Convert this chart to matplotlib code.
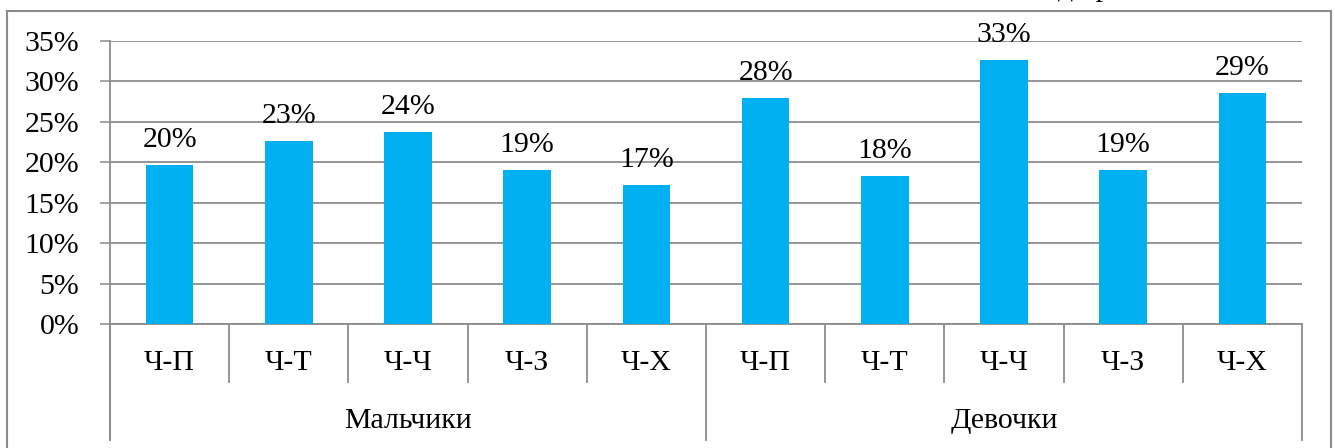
import matplotlib
matplotlib.use("Agg")
import matplotlib.pyplot as plt
import matplotlib.transforms as mtransforms
from matplotlib.lines import Line2D

# Daten
kategorien = ["Ч-П", "Ч-Т", "Ч-Ч", "Ч-З", "Ч-Х", "Ч-П", "Ч-Т", "Ч-Ч", "Ч-З", "Ч-Х"]
gruppen = ["Мальчики", "Девочки"]
werte = [0.197, 0.226, 0.237, 0.190, 0.172, 0.279, 0.183, 0.326, 0.190, 0.286]
y_ticks = [0, 0.05, 0.10, 0.15, 0.20, 0.25, 0.30, 0.35]

plt.rcParams["font.family"] = ["Liberation Serif", "DejaVu Serif"]
schrift = 21.5
grau = "#8c8c8c"
blau = "#00B0F0"

W, H = 1335, 448
fig = plt.figure(figsize=(W / 100, H / 100), dpi=100)
fig.patch.set_facecolor("white")

links, rechts, oben, unten = 110, 1302, 41, 324
ax = fig.add_axes([links / W, (H - unten) / H, (rechts - links) / W, (unten - oben) / H])

x = list(range(len(werte)))
ax.bar(x, werte, width=0.4, color=blau, zorder=3)

for xi, v in zip(x, werte):
    ax.annotate(f"{round(v * 100)}%", (xi, v), xytext=(0, 13), textcoords="offset points",
                ha="center", va="baseline", fontsize=schrift, zorder=4, annotation_clip=False)

ax.set_xlim(-0.5, len(werte) - 0.5)
ax.set_ylim(0, 0.35)
ax.set_yticks(y_ticks)
ax.set_yticklabels([f"{round(t * 100)}%" for t in y_ticks], fontsize=schrift)
ax.yaxis.grid(True, color=grau, linewidth=1.3, zorder=0)
ax.tick_params(axis="y", length=7.2, width=1.1, color=grau, pad=15)
ax.set_xticks([])
for s in ["top", "right"]:
    ax.spines[s].set_visible(False)
ax.spines["left"].set_visible(False)
ax.spines["bottom"].set_color(grau)
ax.spines["bottom"].set_linewidth(1.3)

# mehrstufige Kategorienachse
trans = mtransforms.blended_transform_factory(ax.transData, ax.transAxes)
h_ax = unten - oben

def y_achse(py):
    return (unten - py) / h_ax

# linke Achsenlinie
ax.add_line(Line2D([-0.5, -0.5], [1, y_achse(440)], transform=trans, color=grau,
                   linewidth=1.3, clip_on=False))
for k in range(len(werte) + 1):
    xb = k - 0.5
    if k % 5 == 0:
        yb = y_achse(440)
    else:
        yb = y_achse(382)
    ax.add_line(Line2D([xb, xb], [0, yb], transform=trans, color=grau,
                       linewidth=1.3, clip_on=False))

for xi, name in zip(x, kategorien):
    ax.text(xi, y_achse(363), name, transform=trans, ha="center", va="center",
            fontsize=schrift)

for i, g in enumerate(gruppen):
    ax.text(i * 5 + 2, y_achse(421), g, transform=trans, ha="center", va="center",
            fontsize=schrift)

# Rahmen um das Diagramm
for xs, ys in [([7, 7], [11, H]), ([7, 1331], [11, 11]), ([1331, 1331], [11, H])]:
    fig.add_artist(Line2D([v / W for v in xs], [1 - v / H for v in ys], color=grau,
                          linewidth=1.5, transform=fig.transFigure))

# abgeschnittener Text oberhalb
fig.text(1058 / W, 1 + 4 / H, "д   р", fontsize=schrift, va="baseline", ha="left")

fig.savefig("out.png", dpi=100)
